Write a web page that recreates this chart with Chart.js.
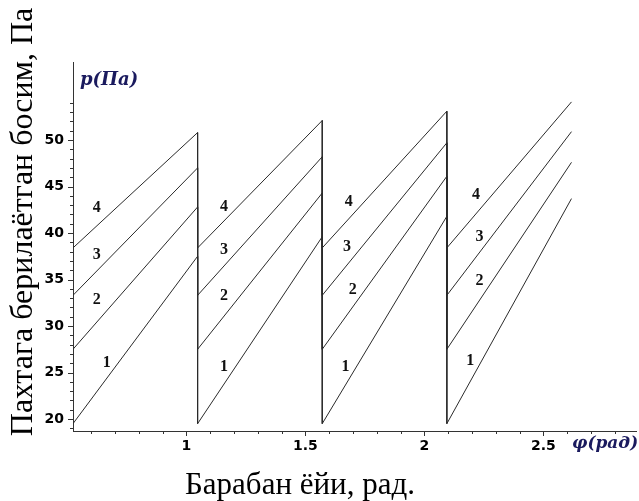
<!DOCTYPE html>
<html>
<head>
<meta charset="utf-8">
<script src="https://cdn.jsdelivr.net/npm/chart.js@4"></script>
<style>
  body { margin: 0; background: #fff; }
  #wrap { width: 639px; height: 501px; }
</style>
</head>
<body>
<div id="wrap"><canvas id="grafik" width="639" height="501"></canvas></div>
<script>
// burchak qiymatlari (rad) - har bir uzilishda x takrorlanadi
const phi = [Math.PI / 6, Math.PI / 3, Math.PI / 3, Math.PI / 2, Math.PI / 2, 2 * Math.PI / 3, 2 * Math.PI / 3, 5 * Math.PI / 6];

// bosim qiymatlari (Па), 1..4 egri chiziqlar
const p1 = [19.5, 37.5, 19.5, 39.6, 19.5, 41.8, 19.5, 43.7];
const p2 = [27.5, 42.8, 27.5, 44.3, 27.5, 46.1, 27.5, 47.6];
const p3 = [33.3, 47.0, 33.3, 48.2, 33.3, 49.7, 33.3, 50.9];
const p4 = [38.4, 50.8, 38.4, 52.1, 38.4, 53.1, 38.4, 54.1];

// o'qlardagi belgilar
const xMajor = [1, 1.5, 2, 2.5];
const xMinor = [0.6, 0.7, 0.8, 0.9, 1.1, 1.2, 1.3, 1.4, 1.6, 1.7, 1.8, 1.9, 2.1, 2.2, 2.3, 2.4, 2.6, 2.7, 2.8];
const yMajor = [20, 25, 30, 35, 40, 45, 50];
const yMinor = [19, 21, 22, 23, 24, 26, 27, 28, 29, 31, 32, 33, 34, 36, 37, 38, 39, 41, 42, 43, 44, 46, 47, 48, 49, 51, 52, 53, 54];

// egri chiziq raqamlari: matn, phi, p
const raqamlar = [
  ['4', 0.623, 42.7], ['3', 0.623, 37.6], ['2', 0.623, 32.8], ['1', 0.665, 26.0],
  ['4', 1.158, 42.8], ['3', 1.158, 38.2], ['2', 1.158, 33.2], ['1', 1.158, 25.6],
  ['4', 1.682, 43.4], ['3', 1.675, 38.5], ['2', 1.699, 33.9], ['1', 1.668, 25.6],
  ['4', 2.217, 44.1], ['3', 2.232, 39.6], ['2', 2.232, 34.9], ['1', 2.193, 26.2]
];

const chiziqRang = '#2a2a2a';
const oqRang = '#333';
const nomRang = '#1a1a5e';

function nuqtalar(arr) {
  return arr.map((v, i) => ({ x: phi[i], y: v }));
}

function toplam(label, arr) {
  return {
    label: label,
    data: nuqtalar(arr),
    showLine: true,
    borderColor: chiziqRang,
    borderWidth: 1,
    pointRadius: 0,
    tension: 0
  };
}

// qo'shimcha chizishlar: belgilar, nomlar, raqamlar
const bezak = {
  id: 'bezak',
  afterDraw(chart) {
    const c = chart.ctx;
    const xs = chart.scales.x, ys = chart.scales.y;
    const left = chart.chartArea.left, bottom = chart.chartArea.bottom;
    c.save();
    c.strokeStyle = oqRang;
    c.lineWidth = 1;
    c.beginPath();
    yMajor.forEach(v => { const py = Math.round(ys.getPixelForValue(v)) + 0.5; c.moveTo(left - 5, py); c.lineTo(left, py); });
    yMinor.forEach(v => { const py = Math.round(ys.getPixelForValue(v)) + 0.5; c.moveTo(left - 3, py); c.lineTo(left, py); });
    xMajor.forEach(v => { const px = Math.round(xs.getPixelForValue(v)) + 0.5; c.moveTo(px, bottom); c.lineTo(px, bottom + 5); });
    xMinor.forEach(v => { const px = Math.round(xs.getPixelForValue(v)) + 0.5; c.moveTo(px, bottom); c.lineTo(px, bottom + 3); });
    c.stroke();

    // egri chiziq raqamlari
    c.fillStyle = '#111';
    c.font = 'bold 16px "Liberation Serif"';
    c.textAlign = 'center';
    c.textBaseline = 'middle';
    raqamlar.forEach(r => c.fillText(r[0], xs.getPixelForValue(r[1]), ys.getPixelForValue(r[2])));

    // o'q nomlari
    c.fillStyle = nomRang;
    c.font = 'bold italic 18px "DejaVu Serif"';
    c.textAlign = 'left';
    c.textBaseline = 'alphabetic';
    c.fillText('p(Па)', 80, 85);
    c.font = 'bold italic 17px "DejaVu Serif"';
    c.fillText('φ(рад)', 572, 448);

    c.fillStyle = '#000';
    c.font = '31px "Liberation Serif"';
    c.textAlign = 'center';
    c.fillText('Барабан ёйи, рад.', 300, 494);

    c.font = '32px "Liberation Serif"';
    c.translate(32, 222);
    c.rotate(-Math.PI / 2);
    c.fillText('Пахтага берилаётган босим, Па', 0, 0);
    c.restore();
  }
};

const grafik = new Chart(document.getElementById('grafik'), {
  type: 'scatter',
  data: {
    datasets: [toplam('1', p1), toplam('2', p2), toplam('3', p3), toplam('4', p4)]
  },
  options: {
    responsive: false,
    animation: false,
    layout: { padding: { left: 0, top: 62, right: 3, bottom: 0 } },
    plugins: { legend: { display: false }, tooltip: { enabled: false } },
    scales: {
      x: {
        type: 'linear',
        min: Math.PI / 6,
        max: 2.889,
        afterBuildTicks: s => { s.ticks = xMajor.map(v => ({ value: v })); },
        afterFit: s => { s.height = 70; },
        grid: { display: true, drawOnChartArea: false, drawTicks: true, tickLength: 5, tickColor: 'transparent' },
        border: { display: true, color: oqRang, width: 1 },
        ticks: {
          color: '#000',
          padding: 2,
          maxRotation: 0,
          font: { family: '"DejaVu Sans"', size: 14, weight: 'bold' },
          callback: v => String(v)
        }
      },
      y: {
        type: 'linear',
        min: 18.71,
        max: 58.39,
        afterBuildTicks: s => { s.ticks = yMajor.map(v => ({ value: v })); },
        afterFit: s => { s.width = 73; },
        grid: { display: true, drawOnChartArea: false, drawTicks: true, tickLength: 5, tickColor: 'transparent' },
        border: { display: true, color: oqRang, width: 1 },
        ticks: {
          color: '#000',
          padding: 4,
          font: { family: '"DejaVu Sans"', size: 14, weight: 'bold' },
          callback: v => String(v)
        }
      }
    }
  },
  plugins: [bezak]
});
</script>
</body>
</html>
